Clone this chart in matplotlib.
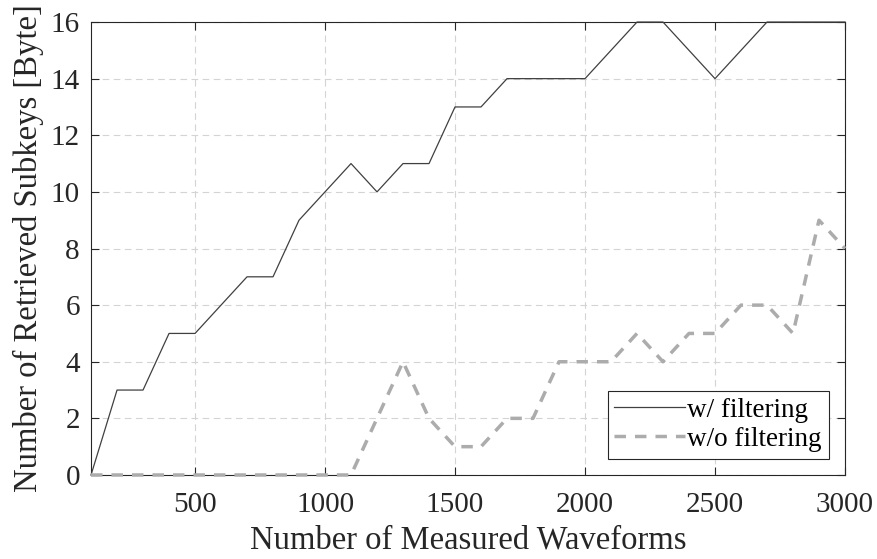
import matplotlib
matplotlib.use("Agg")
import matplotlib.pyplot as plt

waveforms = list(range(100, 3001, 100))
with_filtering = [0, 3, 3, 5, 5, 6, 7, 7, 9, 10, 11, 10, 11, 11, 13, 13, 14, 14, 14, 14,
                  15, 16, 16, 15, 14, 15, 16, 16, 16, 16]
without_filtering = [0, 0, 0, 0, 0, 0, 0, 0, 0, 0, 0, 2, 4, 2, 1, 1, 2, 2, 4, 4,
                     4, 5, 4, 5, 5, 6, 6, 5, 9, 8]
x_ticks = [500, 1000, 1500, 2000, 2500, 3000]
y_ticks = [0, 2, 4, 6, 8, 10, 12, 14, 16]

plt.rcParams['font.family'] = ['Liberation Serif', 'DejaVu Serif']

fig = plt.figure(figsize=(8.77, 5.59), dpi=100)
ax = fig.add_axes([0.1038, 0.1503, 0.8597, 0.8103])

ax.plot(waveforms, with_filtering, color='#404040', lw=0.9, label='w/ filtering',
        zorder=3, clip_on=False)
ax.plot(waveforms, without_filtering, color='#acacac', lw=2.5, ls=(0, (3.3, 2.6)),
        label='w/o filtering', zorder=3, clip_on=False)

ax.set_xlim(100, 3000)
ax.set_ylim(0, 16)
ax.set_xticks(x_ticks)
ax.set_yticks(y_ticks)
ax.grid(True, color='#d4d4d4', ls=(0, (6, 4)), lw=0.8)
ax.tick_params(direction='in', top=True, right=True, length=6, width=0.8,
               labelsize=21, colors='#262626')
ax.tick_params(axis='x', pad=12)
ax.tick_params(axis='y', pad=8)
for s in ax.spines.values():
    s.set_color('#262626')
    s.set_linewidth(0.8)

ax.set_xlabel('Number of Measured Waveforms', fontsize=23.5, color='#262626', labelpad=5)
ax.set_ylabel('Number of Retrieved Subkeys [Byte]', fontsize=23.5, color='#262626', labelpad=5)

leg = ax.legend(loc='lower right', fontsize=19.5, frameon=True, fancybox=False,
                edgecolor='#262626', framealpha=1, handlelength=2.6,
                borderaxespad=0.6, labelspacing=0.15, handletextpad=0.1,
                borderpad=0.25)
leg.get_frame().set_linewidth(0.8)

fig.savefig('out.png', dpi=100)
